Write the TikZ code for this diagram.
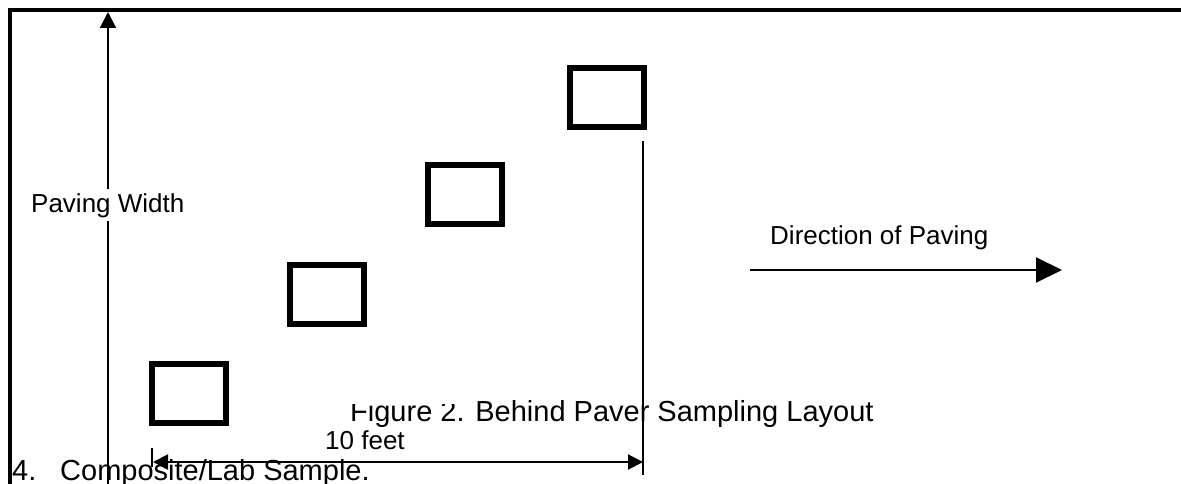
\documentclass[tikz,border=0pt]{standalone}
\usepackage{fontspec}
\setmainfont{Liberation Sans}
\usetikzlibrary{arrows.meta}
\begin{document}
\begin{tikzpicture}[x=1pt,y=-1pt,
  sample/.style={draw=black,line width=6pt,minimum width=74pt,minimum height=59pt,inner sep=0pt},
  lbl/.style={font=\fontsize{26}{30}\selectfont,inner sep=0pt,anchor=base west},
  bigl/.style={font=\fontsize{29}{33}\selectfont,inner sep=0pt,anchor=base west},
  thin/.style={line width=2pt}]
\useasboundingbox (0,0) rectangle (1181,484);
\begin{scope}
\clip (0,0) rectangle (1181,484);
% frame
\draw[line width=4pt] (9.5,500) -- (9.5,10) -- (1190,10);
% figure caption (top of its first words hidden)
\node[bigl] (cap) at (350,421) {Figure 2. Behind Paver Sampling Layout};
\fill[white] (340,385) rectangle (458,403.5);
% composite text
\node[bigl] (n4) at (12,480) {4.};
\node[bigl] (comp) at (60,480) {Composite/Lab Sample.};
% paving width arrow
\coordinate (pwtop) at (108,12);
\coordinate (pwbot) at (108,490);
\draw[thin,-{Triangle[length=16pt,width=16pt]},{Triangle[length=16pt,width=16pt]}-] (pwtop) -- (pwbot);
\node[lbl,fill=white,inner ysep=4pt] (pw) at (31,212) {Paving Width};
% samples
\node[sample] (s1) at (189,393) {};
\node[sample] (s2) at (327,294) {};
\node[sample] (s3) at (465,194.5) {};
\node[sample] (s4) at (606.5,97.5) {};
% right reference line
\coordinate (rtop) at (643,141);
\coordinate (rbot) at (643,475);
\draw[thin] (rtop) -- (rbot);
% left tick
\coordinate (ltop) at (152,448);
\coordinate (lbot) at (152,467);
\draw[thin] (ltop) -- (lbot);
% 10 feet label
\node[lbl] (ten) at (325,449) {10 feet};
% 10 feet arrow
\coordinate (fa) at (153,462);
\coordinate (fb) at (643,462);
\draw[thin,{Triangle[length=15pt,width=15pt]}-{Triangle[length=15pt,width=15pt]}] (fa) -- (fb);
% direction of paving
\node[lbl] (dir) at (770,244) {Direction of Paving};
\coordinate (da) at (750,270);
\coordinate (db) at (1062,270);
\draw[thin,-{Triangle[length=26pt,width=25pt]}] (da) -- (db);
\end{scope}
\end{tikzpicture}
\end{document}
